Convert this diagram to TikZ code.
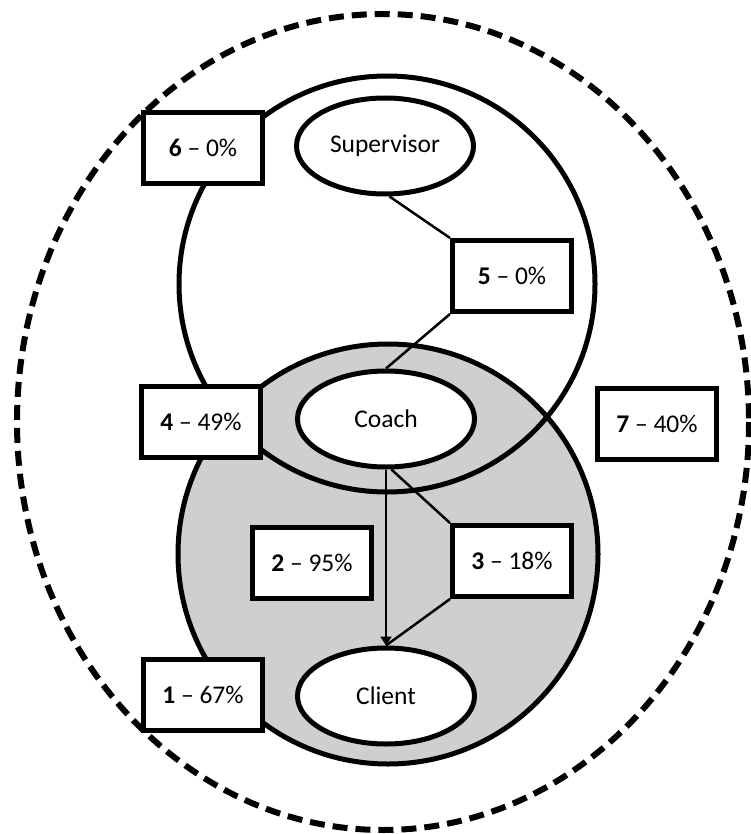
\documentclass[tikz,border=0pt]{standalone}
\usepackage{fontspec}
\setmainfont{Carlito}
\usetikzlibrary{arrows.meta,shapes.geometric}
\definecolor{ringgray}{RGB}{208,206,208}
\tikzset{
  thickline/.style={line width=5pt},
  roleell/.style={ellipse, draw, thickline, fill=white, minimum width=177pt, minimum height=96pt, inner sep=0pt, font=\fontsize{25.5}{30}\selectfont},
  pctbox/.style={rectangle, draw, thickline, fill=white, minimum width=119pt, minimum height=71pt, inner sep=0pt, font=\fontsize{25.5}{30}\selectfont},
  conn/.style={line width=2.5pt},
}
\begin{document}
\begin{tikzpicture}[x=1pt,y=-1pt]
\useasboundingbox[fill=white] (0,0) rectangle (750,834);
% outer dashed ellipse
\draw[line width=6pt, dash pattern=on 15pt off 8pt] (383,422) ellipse [x radius=366, y radius=408];
% gray lower circle fill
\fill[ringgray] (388,554) circle [radius=210];
% outlines
\draw[thickline] (387,284) circle [radius=208];
\draw[thickline] (388,554) circle [radius=210];
% role ellipses
\node[roleell] (sup) at (385,146) {Supervisor};
\node[roleell] (coach) at (386,419) {Coach};
\node[roleell] (client) at (386,696) {Client};
% boxes
\node[pctbox] (b6) at (203,148) {\textbf{6} – 0\%};
\node[pctbox] (b5) at (512,276) {\textbf{5} – 0\%};
\node[pctbox] (b4) at (201,422) {\textbf{4} – 49\%};
\node[pctbox] (b7) at (657,424) {\textbf{7} – 40\%};
\node[pctbox] (b2) at (312,563) {\textbf{2} – 95\%};
\node[pctbox] (b3) at (512,561) {\textbf{3} – 18\%};
\node[pctbox] (b1) at (203,695) {\textbf{1} – 67\%};
% connectors
\draw[conn] (sup.-85) -- (b5.north west);
\draw[conn] (b5.south west) -- (coach.north);
\draw[conn, -{Triangle[length=9pt,width=11pt]}] (coach.south) -- (client.north);
\draw[conn] (coach.-84) -- (b3.north west);
\draw[conn] (b3.south west) -- (client.north);
\end{tikzpicture}
\end{document}
